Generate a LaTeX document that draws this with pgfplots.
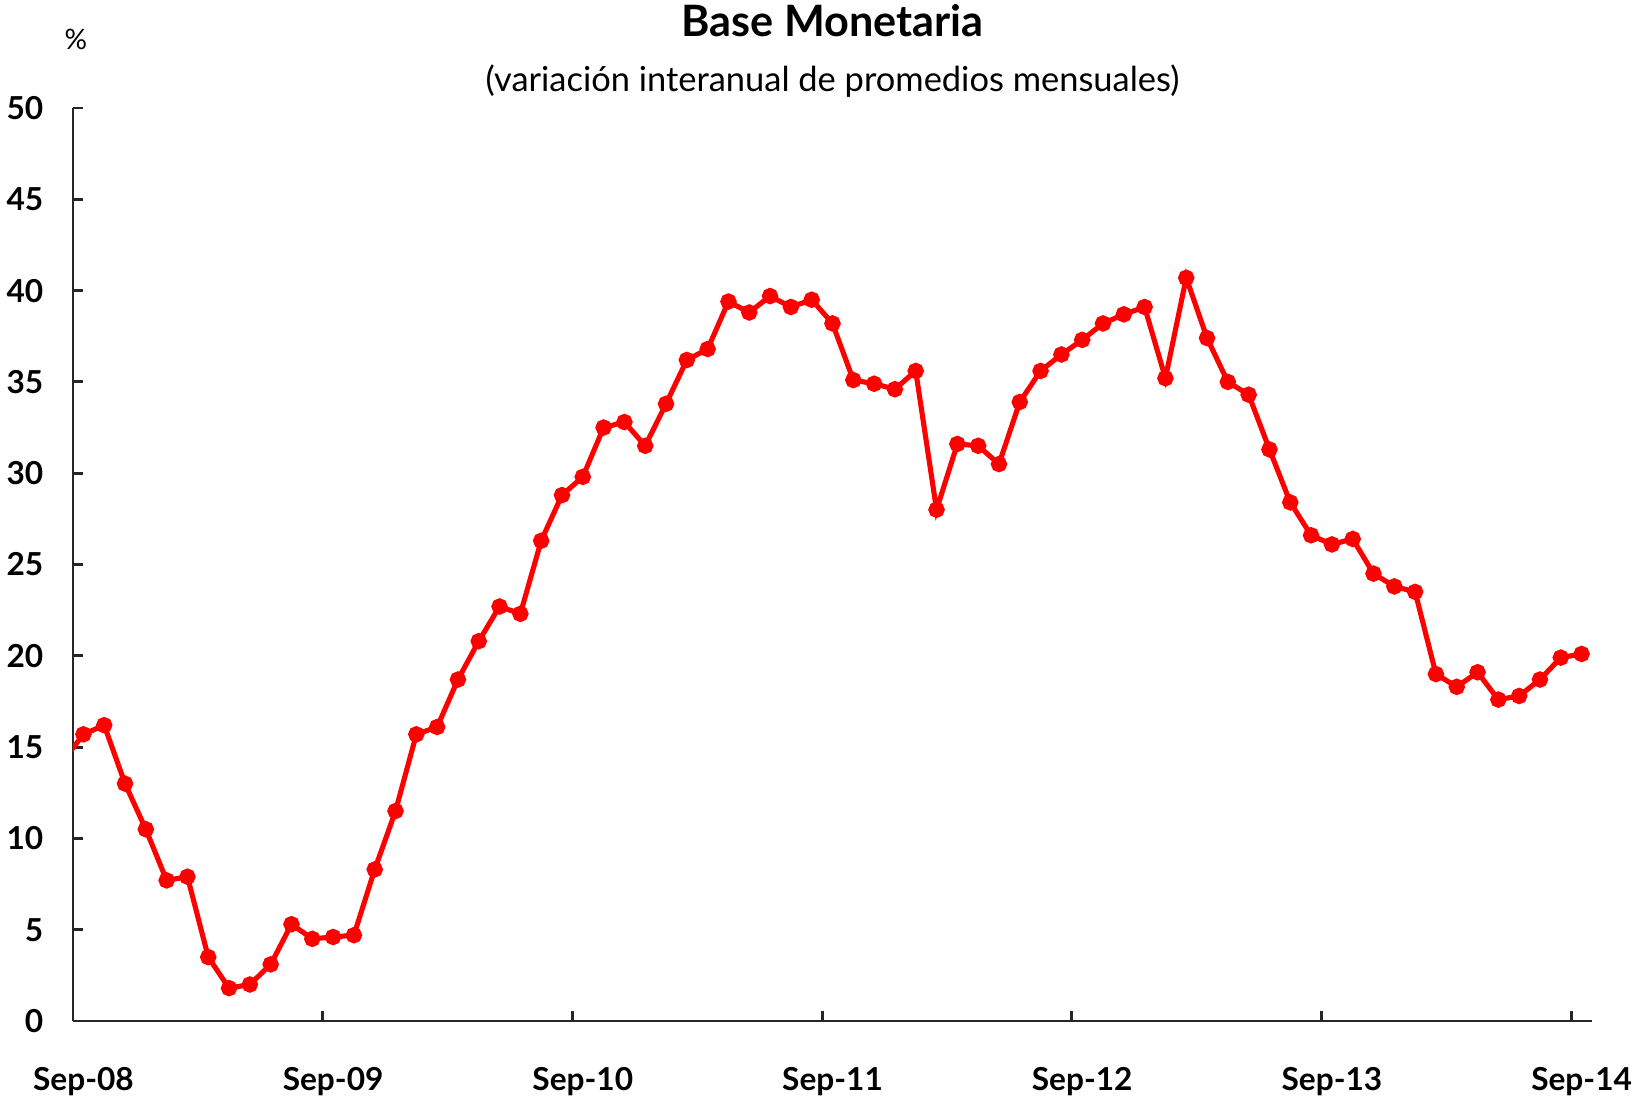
\documentclass[border=0pt]{standalone}
\usepackage{pgfplots}
\pgfplotsset{compat=1.18}
\usepackage{pgfplotstable}
\usepackage{fontspec}
\setmainfont{Lato}

% monthly y/y change, index 0 = Sep-08 (index -1 = Aug-08, cut by the axis)
\pgfplotstableread{
m v
-1 14.2
0 15.7
1 16.2
2 13.0
3 10.5
4 7.7
5 7.9
6 3.5
7 1.8
8 2.0
9 3.1
10 5.3
11 4.5
12 4.6
13 4.7
14 8.3
15 11.5
16 15.7
17 16.1
18 18.7
19 20.8
20 22.7
21 22.3
22 26.3
23 28.8
24 29.8
25 32.5
26 32.8
27 31.5
28 33.8
29 36.2
30 36.8
31 39.4
32 38.8
33 39.7
34 39.1
35 39.5
36 38.2
37 35.1
38 34.9
39 34.6
40 35.6
41 28.0
42 31.6
43 31.5
44 30.5
45 33.9
46 35.6
47 36.5
48 37.3
49 38.2
50 38.7
51 39.1
52 35.2
53 40.7
54 37.4
55 35.0
56 34.3
57 31.3
58 28.4
59 26.6
60 26.1
61 26.4
62 24.5
63 23.8
64 23.5
65 19.0
66 18.3
67 19.1
68 17.6
69 17.8
70 18.7
71 19.9
72 20.1
}\basemon

\begin{document}
\begin{tikzpicture}
\path[use as bounding box] (-0.73cm,-0.79cm) rectangle (15.76cm,10.21cm);
\begin{axis}[
    at={(0,0)}, anchor=south west,
    scale only axis,
    width=15.19cm, height=9.13cm,
    xmin=-0.5, xmax=72.5,
    ymin=0, ymax=50,
    axis x line=bottom, axis y line=left,
    axis line style={-, line width=0.8pt, black!85},
    tick style={line width=0.8pt, black!85},
    tick align=inside,
    major tick length=0.1cm,
    xtick={-0.5,11.5,23.5,35.5,47.5,59.5,71.5},
    xticklabels={Sep-08,Sep-09,Sep-10,Sep-11,Sep-12,Sep-13,Sep-14},
    xticklabel style={font=\fontsize{9}{10}\selectfont\bfseries, anchor=base, xshift=0.104cm, yshift=-0.69cm},
    ytick={0,5,...,50},
    yticklabel style={font=\fontsize{9}{10}\selectfont\bfseries, anchor=east, inner sep=0pt, xshift=-0.29cm},
    /pgf/number format/assume math mode=true,
]
\addplot[red, line width=1.45pt, mark=*, mark size=1.6pt, mark options={fill=red, draw=red}]
    table[x=m, y=v] {\basemon};
\end{axis}
\node[font=\fontsize{12.3}{14}\selectfont\bfseries] at (7.595cm,10.0cm) {Base Monetaria};
\node[font=\fontsize{9.8}{11}\selectfont] at (7.595cm,9.40cm) {(variación interanual de promedios mensuales)};
\node[font=\fontsize{8}{9}\selectfont] at (0.03cm,9.82cm) {\%};
\end{tikzpicture}
\end{document}
